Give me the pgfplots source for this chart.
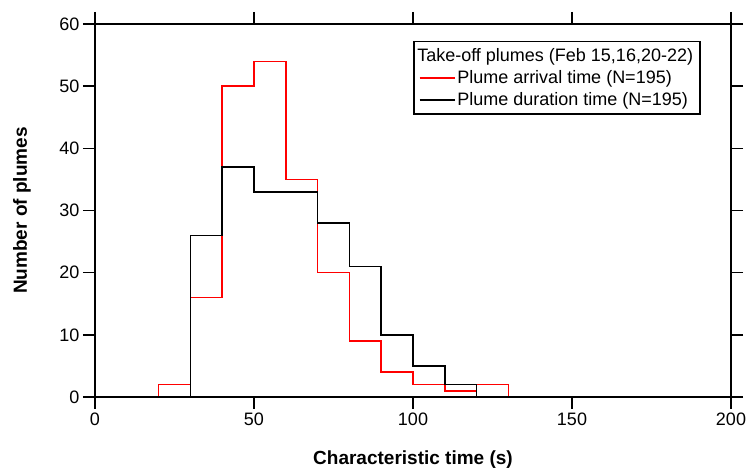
\documentclass[border=0pt]{standalone}
\usepackage{fontspec}
\setmainfont{Liberation Sans}
\usepackage{pgfplots}
\pgfplotsset{compat=1.18}
\usetikzlibrary{calc}

\begin{document}
\begin{tikzpicture}
\begin{axis}[name=ax, scale only axis, width=636pt, height=373pt,
  xmin=0, xmax=200, ymin=0, ymax=60,
  xtick={0,50,...,200}, ytick={0,10,...,60},
  tick align=outside, major tick length=12pt,
  axis line style={line width=1.5pt}, every tick/.style={line width=1.5pt, black},
  /pgf/number format/assume math mode=true,
  tick label style={font=\fontsize{18}{20}\selectfont},
  label style={font=\fontsize{19}{22}\selectfont\bfseries},
  xlabel={Characteristic time (s)}, ylabel={Number of plumes},
  xlabel style={at={(axis description cs:0.5,-0.169)}, anchor=center},
  ylabel style={at={(axis description cs:-0.115,0.5)}, anchor=center},
  clip=false,
  legend cell align=left,
  legend image code/.code={\draw[#1, line width=1.5pt] (0pt,0pt) -- (35pt,0pt);},
  legend style={at={(axis cs:100,57.3)}, anchor=north west, draw=black, line width=1.5pt,
    font=\fontsize{18}{20}\selectfont, inner xsep=5pt, inner ysep=5pt,
    row sep=3.5pt, /tikz/every even column/.append style={column sep=2pt}},
]
\addlegendimage{empty legend}
\addlegendentry{\hspace{-40pt}Take-off plumes (Feb 15,16,20-22)}
\addplot[const plot, red, line width=1.5pt] coordinates {
  (0,0) (20,2) (30,16) (40,50) (50,54) (60,35) (70,20) (80,9) (90,4)
  (100,2) (110,1) (120,2) (130,0) (200,0)};
\addlegendentry{Plume arrival time (N=195)}
\addplot[const plot, black, line width=1.5pt] coordinates {
  (0,0) (30,26) (40,37) (50,33) (60,33) (70,28) (80,21) (90,10)
  (100,5) (110,2) (120,0) (200,0)};
\addlegendentry{Plume duration time (N=195)}
\end{axis}
\pgfresetboundingbox
\path[use as bounding box] ($(ax.south west)+(-95pt,-76pt)$) rectangle ($(ax.north east)+(18pt,24pt)$);
\end{tikzpicture}
\end{document}
